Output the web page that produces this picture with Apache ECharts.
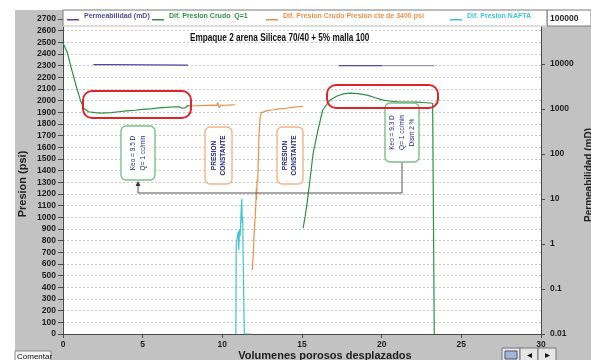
<!DOCTYPE html>
<html>
<head>
<meta charset="utf-8">
<script src="https://cdn.jsdelivr.net/npm/echarts@6/dist/echarts.min.js"></script>
<style>
  html, body { margin: 0; padding: 0; background: #fff; }
  #chart { width: 591px; height: 360px; }
</style>
</head>
<body>
<div id="chart"></div>
<script>
// Series names (legend order)
const NAME_PERM  = 'Permeabilidad (mD)';
const NAME_Q1    = 'Dif. Presion Crudo  Q=1';
const NAME_CTE   = 'Dif. Presion Crudo Presion cte de 3400 psi';
const NAME_NAFTA = 'Dif. Presion NAFTA';

// Permeability (mD) vs pore volumes, right log axis
const permA = [[1.9, 9700], [2.95, 9700], [3.0, 9400], [7.85, 9400]];
const permB = [[17.3, 9200], [20.05, 9200]];
const permC = [[20.05, 9200], [23.3, 9200]];

// Differential pressure, crude at Q = 1 cc/min (psi)
const crudoQ1A = [
  [0, 2494], [0.28, 2408], [0.49, 2294], [0.69, 2194], [0.9, 2091], [1.1, 2000],
  [1.3, 1935], [1.6, 1905], [2.0, 1897], [2.4, 1893], [3.0, 1898], [3.5, 1905],
  [4.0, 1912], [4.5, 1918], [5.0, 1925], [5.5, 1930], [6.0, 1938], [6.5, 1942],
  [7.0, 1948], [7.3, 1946], [7.5, 1935], [7.6, 1950], [7.7, 1940], [7.8, 1958], [7.95, 1955]
];
const crudoQ1B = [
  [15.07, 908], [15.2, 1010], [15.32, 1122], [15.5, 1320], [15.7, 1551], [16.0, 1748],
  [16.3, 1920], [16.76, 2005], [17.2, 2040], [17.6, 2058], [18.0, 2065], [18.5, 2060],
  [19.1, 2048], [19.6, 2025], [20.1, 2005], [20.6, 1995], [21.2, 1988], [22.2, 1988],
  [22.8, 1982], [23.2, 1978], [23.29, 1975], [23.3, 0]
];

// Differential pressure, crude at constant 3400 psi (psi)
const crudoCteA = [
  [7.95, 1955], [8.5, 1957], [9.0, 1960], [9.5, 1962], [9.65, 1960], [9.7, 1985],
  [9.75, 2000], [9.8, 1940], [9.85, 1930], [9.9, 1960], [10.3, 1962], [10.8, 1965]
];
const crudoCteB = [
  [11.88, 548], [11.95, 700], [12.0, 880], [12.05, 977], [12.1, 1100], [12.13, 1250],
  [12.15, 1150], [12.18, 1320], [12.22, 1300], [12.25, 1450], [12.3, 1700], [12.37, 1860],
  [12.45, 1895], [12.55, 1905], [12.8, 1915], [13.2, 1922], [13.6, 1930], [14.0, 1935],
  [14.5, 1945], [15.07, 1952]
];

// Differential pressure, naphtha (psi)
const nafta = [
  [10.85, 0], [10.87, 760], [10.95, 840], [11.0, 880], [11.03, 720], [11.08, 900],
  [11.12, 840], [11.18, 1060], [11.22, 1160], [11.25, 950], [11.28, 1000], [11.3, 720],
  [11.35, 720], [11.38, 0], [11.8, 0]
];

const SANS = "'Liberation Sans',Arial,sans-serif";

const C_PERM = '#4e4aa0';
const C_PERM_LIGHT = '#9a96c8';
const C_CRUDO = '#2f8f45';
const C_CTE = '#e8914a';
const C_NAFTA = '#3ec6d2';
const AXIS = '#4a4a4a';
const TXT = '#1e1e1e';
const NOTE = '#25257e';

function lineSeries(name, data, color, yAxisIndex) {
  return {
    type: 'line', name, data, yAxisIndex: yAxisIndex || 0,
    showSymbol: false, symbol: 'none', animation: false,
    lineStyle: { color, width: 1.2 }, itemStyle: { color }, z: 3
  };
}

function legendAt(left, name, color) {
  return {
    left, top: 12, padding: 0, itemGap: 0, selectedMode: false, z: 60,
    icon: 'path://M0,0L0.01,0M0,7L12,7L12,8.4L0,8.4Z',
    itemWidth: 12, itemHeight: 9,
    data: [{ name, itemStyle: { color, borderWidth: 0 }, textStyle: { color } }],
    textStyle: { fontFamily: SANS, fontWeight: 'bold', fontSize: 7 }
  };
}

function noteBox(x, y, w, h, stroke, lines, font) {
  return [
    { type: 'rect', z: 50, shape: { x, y, width: w, height: h, r: 5 },
      style: { fill: '#fff', stroke, lineWidth: 1.4 } },
    { type: 'text', z: 51, x: x + w / 2, y: y + h / 2, rotation: Math.PI / 2,
      style: { text: lines.join('\n'), fill: NOTE, font, align: 'center',
               verticalAlign: 'middle', lineHeight: font.indexOf('bold') >= 0 ? 9 : 10 } }
  ];
}

const graphics = [
  // white margins around the grey panel
  { type: 'rect', z: -5, shape: { x: 0, y: 0, width: 591, height: 10 }, style: { fill: '#fff' } },
  { type: 'rect', z: -5, shape: { x: 0, y: 0, width: 15, height: 360 }, style: { fill: '#fff' } },
  // box behind the top right-axis label
  { type: 'rect', z: -4, shape: { x: 547, y: 10, width: 44, height: 16 },
    style: { fill: '#fff', stroke: '#7a7a7a', lineWidth: 1 } },
  // legend strip
  { type: 'rect', z: 50, shape: { x: 63, y: 10, width: 484, height: 16 },
    style: { fill: '#fff', stroke: '#7a7a7a', lineWidth: 1 } },
  { type: 'line', z: 51, shape: { x1: 63, y1: 26, x2: 547, y2: 26 },
    style: { stroke: '#fff', lineWidth: 1 } },
  // title
  { type: 'text', z: 51, x: 190, y: 38, scaleX: 0.82,
    style: { text: 'Empaque 2 arena Silicea 70/40 + 5% malla 100', fill: '#111',
             font: 'bold 10px ' + SANS, verticalAlign: 'middle' } },
  // axis titles
  { type: 'text', z: 51, x: 23, y: 184, rotation: Math.PI / 2,
    style: { text: 'Presion (psi)', fill: TXT, font: 'bold 11px ' + SANS,
             align: 'center', verticalAlign: 'middle' } },
  { type: 'text', z: 51, x: 589, y: 175, rotation: Math.PI / 2,
    style: { text: 'Permeabilidad (mD)', fill: TXT, font: 'bold 10px ' + SANS,
             align: 'center', verticalAlign: 'middle' } },
  { type: 'text', z: 51, x: 325, y: 356,
    style: { text: 'Volumenes porosos desplazados', fill: TXT, font: 'bold 11px ' + SANS,
             align: 'center', verticalAlign: 'middle' } },
  // red highlight frames
  { type: 'rect', z: 52, shape: { x: 83, y: 91, width: 108, height: 27, r: 9 },
    style: { fill: 'none', stroke: '#e0242a', lineWidth: 2 } },
  { type: 'rect', z: 52, shape: { x: 327, y: 85, width: 111, height: 23, r: 9 },
    style: { fill: 'none', stroke: '#e0242a', lineWidth: 2 } },
  // connector between the two permeability notes
  { type: 'polyline', z: 49, shape: { points: [[138, 184], [138, 193], [402, 193], [402, 162]] },
    style: { stroke: '#555', lineWidth: 1, fill: 'none' } },
  { type: 'polygon', z: 50, shape: { points: [[135.5, 186], [140.5, 186], [138, 181]] },
    style: { fill: '#333' } },
  // footer buttons
  { type: 'rect', z: 50, shape: { x: 15, y: 351, width: 36, height: 10 },
    style: { fill: '#f4f4f4', stroke: '#8a8a8a', lineWidth: 1 } },
  { type: 'text', z: 51, x: 17, y: 357,
    style: { text: 'Comentar', fill: '#111', font: '8px ' + SANS, verticalAlign: 'middle' } },
  { type: 'rect', z: 50, shape: { x: 502, y: 348, width: 18, height: 13 },
    style: { fill: '#e6e6e6', stroke: '#777', lineWidth: 1 } },
  { type: 'rect', z: 50, shape: { x: 520, y: 348, width: 18, height: 13 },
    style: { fill: '#e6e6e6', stroke: '#777', lineWidth: 1 } },
  { type: 'rect', z: 50, shape: { x: 538, y: 348, width: 18, height: 13 },
    style: { fill: '#e6e6e6', stroke: '#777', lineWidth: 1 } },
  { type: 'rect', z: 51, shape: { x: 505, y: 351, width: 12, height: 8 },
    style: { fill: '#9fb6d6', stroke: '#556', lineWidth: 1 } },
  { type: 'text', z: 51, x: 529, y: 355,
    style: { text: '◂', fill: '#111', font: '10px ' + SANS, align: 'center', verticalAlign: 'middle' } },
  { type: 'text', z: 51, x: 547, y: 355,
    style: { text: '▸', fill: '#111', font: '10px ' + SANS, align: 'center', verticalAlign: 'middle' } }
]
  .concat(noteBox(121, 126, 34, 54, '#7cc08a', ['Keo = 9.5 D', 'Q= 1 cc/min'], '6.5px ' + SANS))
  .concat(noteBox(385, 103, 34, 59, '#7cc08a', ['Keo = 9.3 D', 'Q= 1 cc/min', 'Dism 2 %'], '6.5px ' + SANS))
  .concat(noteBox(205, 127, 27, 57, '#f2b487', ['PRESION', 'CONSTANTE'], 'bold 6.5px ' + SANS))
  .concat(noteBox(277, 127, 26, 57, '#f2b487', ['PRESION', 'CONSTANTE'], 'bold 6.5px ' + SANS));

const labelStyle = { fontFamily: SANS, fontWeight: 'bold', fontSize: 8.5, color: TXT };

const chart = echarts.init(document.getElementById('chart'), null, { renderer: 'canvas' });
chart.setOption({
  backgroundColor: '#c2c2c2',
  animation: false,
  grid: { left: 63, right: 50, top: 19, bottom: 26, show: true, backgroundColor: '#fff', borderWidth: 0 },
  legend: [
    legendAt(67, NAME_PERM, C_PERM),
    legendAt(152, NAME_Q1, C_CRUDO),
    legendAt(266, NAME_CTE, C_CTE),
    legendAt(450, NAME_NAFTA, C_NAFTA)
  ],
  xAxis: {
    type: 'value', min: 0, max: 30, interval: 5,
    axisLine: { show: true, onZero: false, lineStyle: { color: AXIS, width: 1 } },
    axisTick: { show: true, length: 4, lineStyle: { color: AXIS } },
    axisLabel: Object.assign({ margin: 6 }, labelStyle),
    splitLine: { show: false }
  },
  yAxis: [
    {
      type: 'value', min: 0, max: 2700, interval: 100, position: 'left',
      axisLine: { show: true, lineStyle: { color: AXIS, width: 1 } },
      axisTick: { show: true, length: 5, lineStyle: { color: AXIS } },
      axisLabel: Object.assign({ margin: 7, formatter: v => String(v) }, labelStyle),
      splitLine: { show: true, lineStyle: { color: '#c6c6c6', type: [2, 2], width: 1 } }
    },
    {
      type: 'log', logBase: 10, min: 0.01, max: 100000, splitNumber: 7, position: 'right',
      axisLine: { show: true, lineStyle: { color: AXIS, width: 1 } },
      axisTick: { show: true, length: 4, lineStyle: { color: AXIS } },
      axisLabel: Object.assign({ margin: 9, formatter: v => String(+Number(v).toPrecision(6)) }, labelStyle),
      splitLine: { show: false },
      minorTick: { show: false }
    }
  ],
  series: [
    lineSeries(NAME_PERM, permA, C_PERM, 1),
    lineSeries(NAME_PERM, permB, C_PERM, 1),
    Object.assign(lineSeries(NAME_PERM, permC, C_PERM_LIGHT, 1), { legendHoverLink: false }),
    lineSeries(NAME_Q1, crudoQ1A, C_CRUDO, 0),
    lineSeries(NAME_Q1, crudoQ1B, C_CRUDO, 0),
    lineSeries(NAME_CTE, crudoCteA, C_CTE, 0),
    lineSeries(NAME_CTE, crudoCteB, C_CTE, 0),
    lineSeries(NAME_NAFTA, nafta, C_NAFTA, 0)
  ],
  graphic: graphics
});
</script>
</body>
</html>
